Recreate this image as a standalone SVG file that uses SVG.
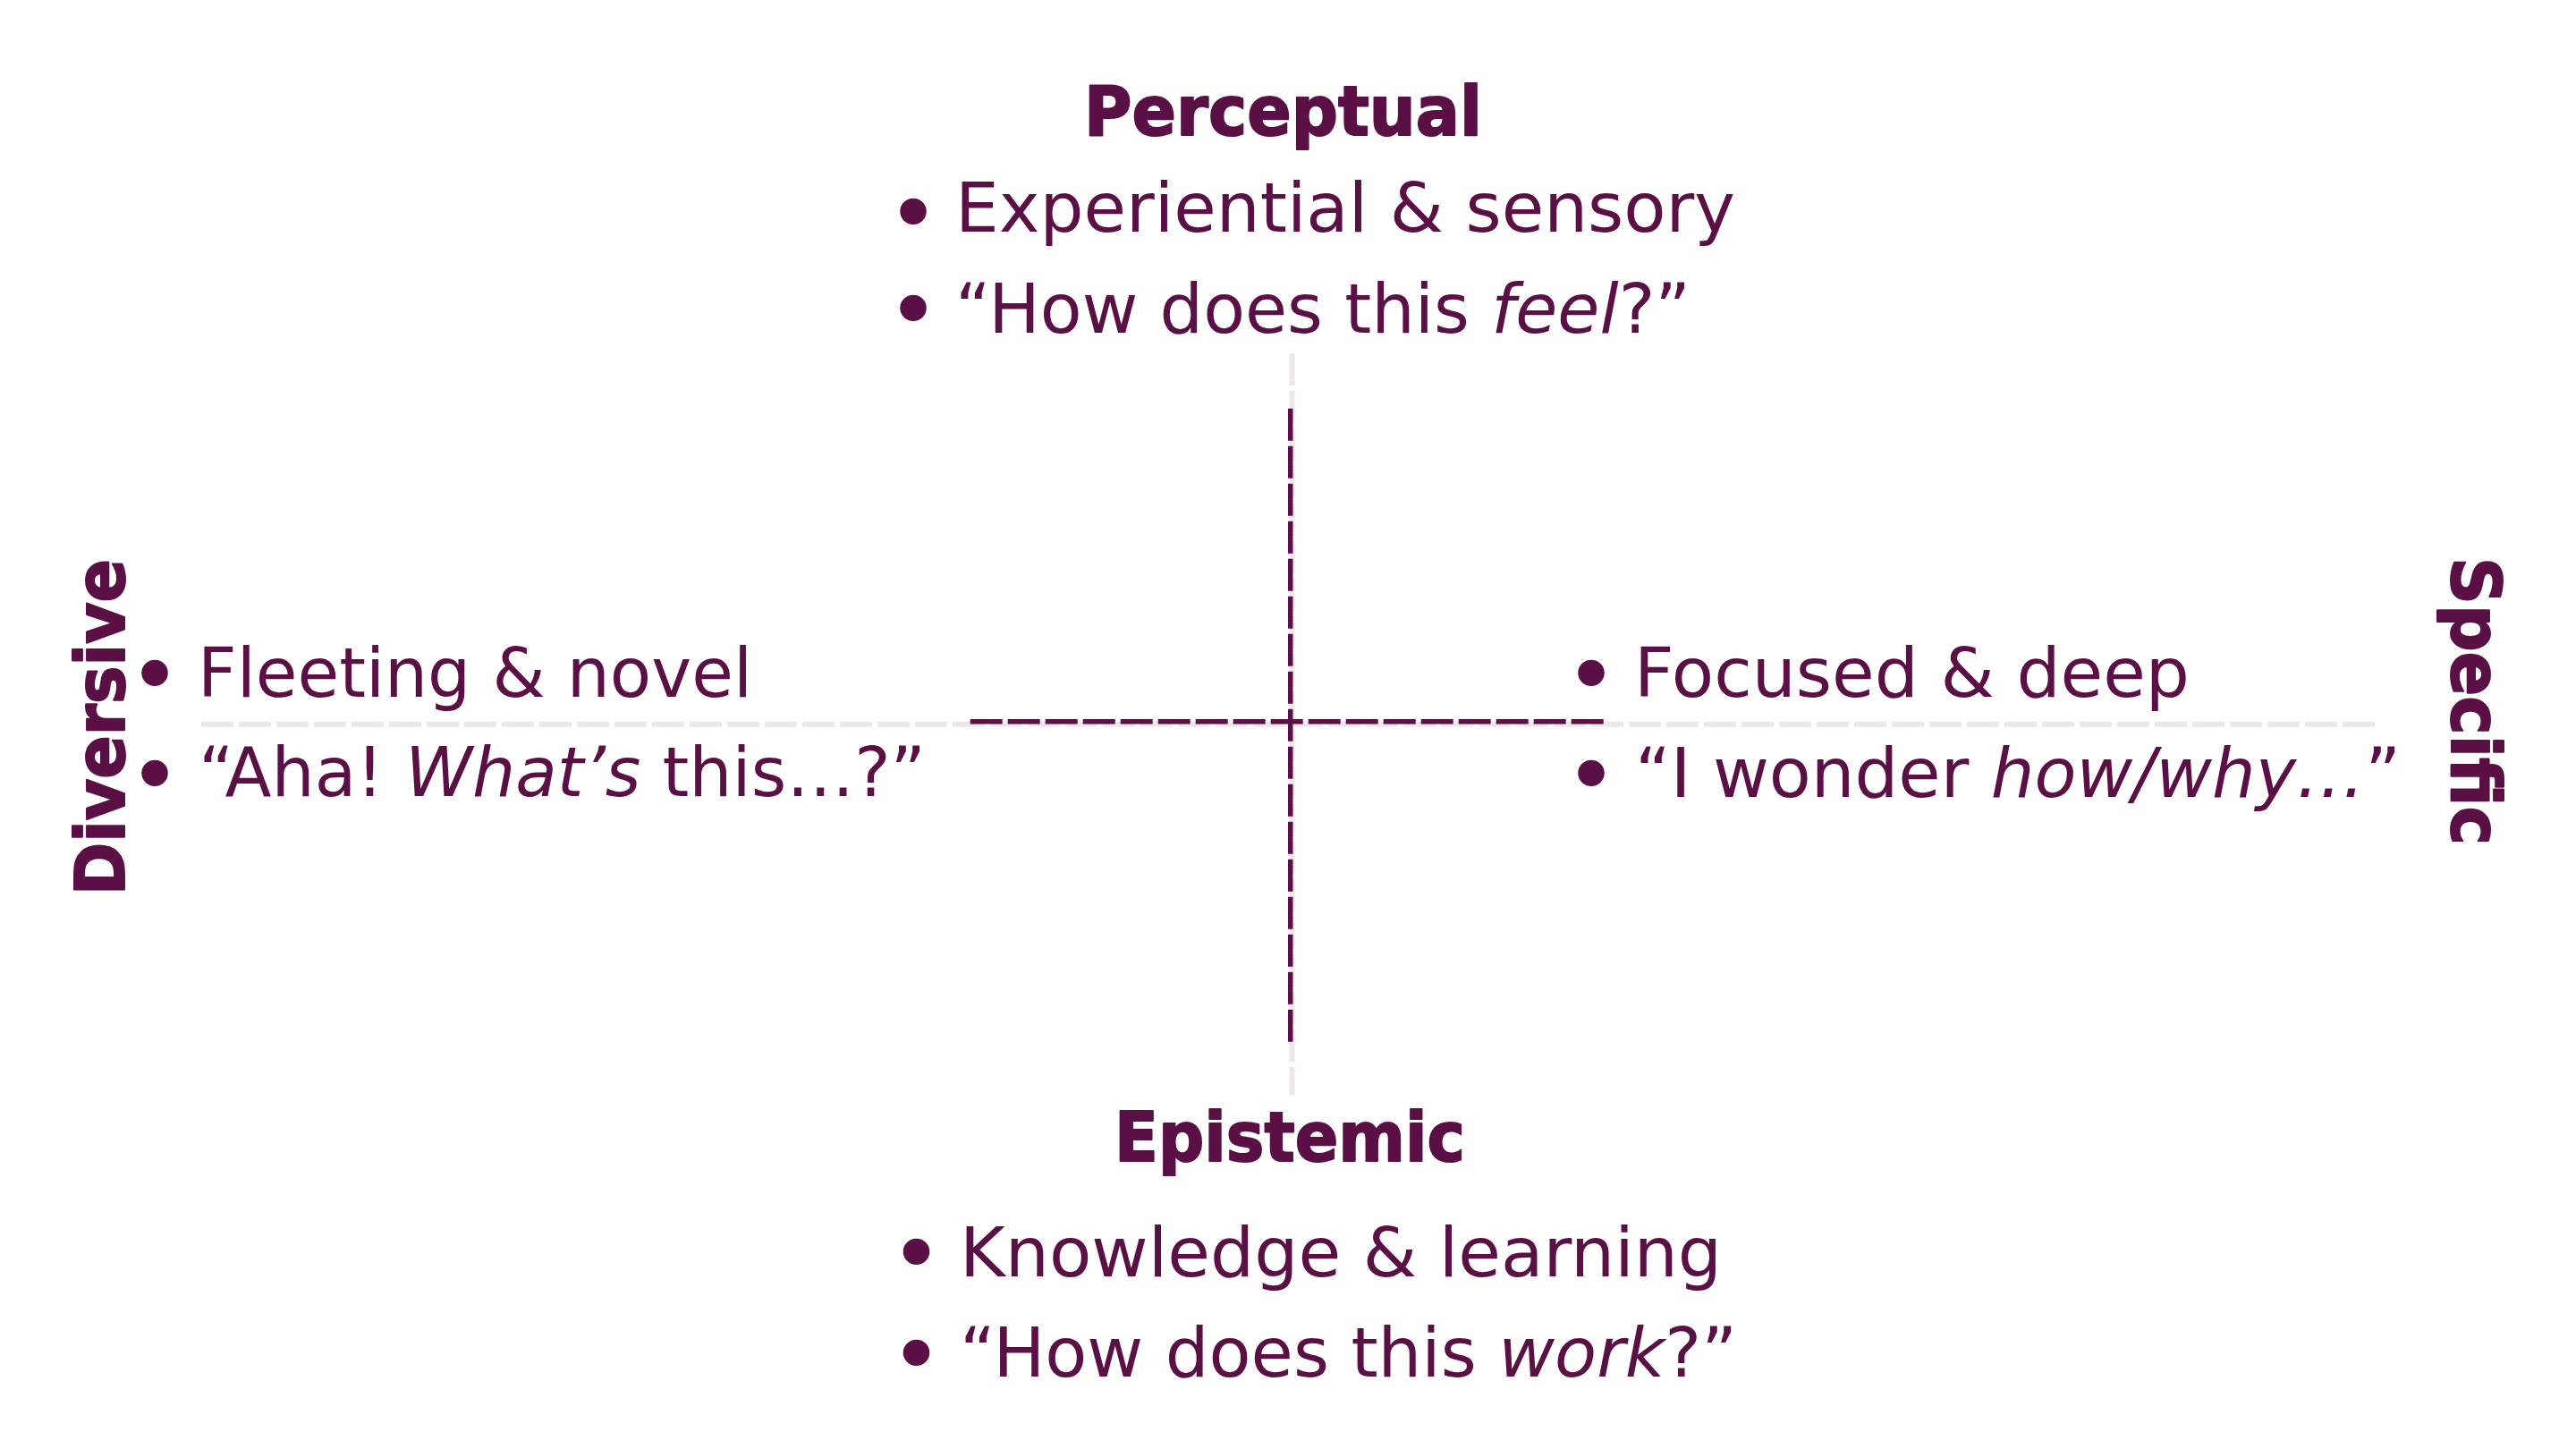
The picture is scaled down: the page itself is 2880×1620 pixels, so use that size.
<svg xmlns="http://www.w3.org/2000/svg" width="2880" height="1620" viewBox="0 0 2880 1620">
<style>
.t{font-family:"DejaVu Sans","Liberation Sans",sans-serif;font-size:77px;fill:#5B1045}
.h{font-family:"DejaVu Sans","Liberation Sans",sans-serif;font-size:77px;font-weight:bold;fill:#5B1045;stroke:#5B1045;stroke-width:2;stroke-linejoin:round}
.b{font-family:"DejaVu Sans","Liberation Sans",sans-serif;font-size:95px;fill:#5B1045;stroke:#5B1045;stroke-width:2;text-anchor:middle}
.i{font-style:italic}
.g{stroke:#EDE7EC;stroke-width:6;stroke-dasharray:36 6;fill:none}
.p{stroke:#5B1045;stroke-width:5.5;stroke-dasharray:36 6;fill:none}
</style>
<rect width="2880" height="1620" fill="#FFFFFF"/>
<g id="connectors">
<line class="g" x1="1444.5" y1="395" x2="1444.5" y2="1224.5"/>
<line class="g" x1="225" y1="809.7" x2="2655" y2="809.7"/>
<line class="p" x1="1442.7" y1="456.7" x2="1442.7" y2="1164.7"/>
<line class="p" x1="1084.7" y1="806.7" x2="1792.7" y2="806.7"/>
</g>
<g id="perceptual">
<text class="h" x="1212" y="151" textLength="445" lengthAdjust="spacingAndGlyphs">Perceptual</text>
<text class="b" x="1021" y="271">•</text>
<text class="t" x="1068" y="259" textLength="872" lengthAdjust="spacingAndGlyphs">Experiential &amp; sensory</text>
<text class="b" x="1021" y="379">•</text>
<text class="t" x="1068" y="372" textLength="822" lengthAdjust="spacingAndGlyphs">“How does this <tspan class="i">feel</tspan>?”</text>
</g>
<g id="diversive">
<text class="h" transform="translate(139,1001) rotate(-90)" x="0" y="0" textLength="376" lengthAdjust="spacingAndGlyphs">Diversive</text>
<text class="b" x="173" y="787">•</text>
<text class="t" x="221" y="779" textLength="620" lengthAdjust="spacingAndGlyphs">Fleeting &amp; novel</text>
<text class="b" x="173" y="899">•</text>
<text class="t" x="222" y="890" textLength="813" lengthAdjust="spacingAndGlyphs">“Aha! <tspan class="i">What’s</tspan> this…?”</text>
</g>
<g id="specific">
<text class="h" transform="translate(2741,623) rotate(90)" x="0" y="0" textLength="322" lengthAdjust="spacingAndGlyphs">Specific</text>
<text class="b" x="1779" y="787">•</text>
<text class="t" x="1827" y="779" textLength="621" lengthAdjust="spacingAndGlyphs">Focused &amp; deep</text>
<text class="b" x="1779" y="899">•</text>
<text class="t" x="1828" y="891" textLength="856" lengthAdjust="spacingAndGlyphs">“I wonder <tspan class="i">how/why…</tspan>”</text>
</g>
<g id="epistemic">
<text class="h" x="1246" y="1298" textLength="392" lengthAdjust="spacingAndGlyphs">Epistemic</text>
<text class="b" x="1024.5" y="1434">•</text>
<text class="t" x="1073" y="1427" textLength="852" lengthAdjust="spacingAndGlyphs">Knowledge &amp; learning</text>
<text class="b" x="1024.5" y="1547">•</text>
<text class="t" x="1073" y="1539" textLength="869" lengthAdjust="spacingAndGlyphs">“How does this <tspan class="i">work</tspan>?”</text>
</g>
</svg>
